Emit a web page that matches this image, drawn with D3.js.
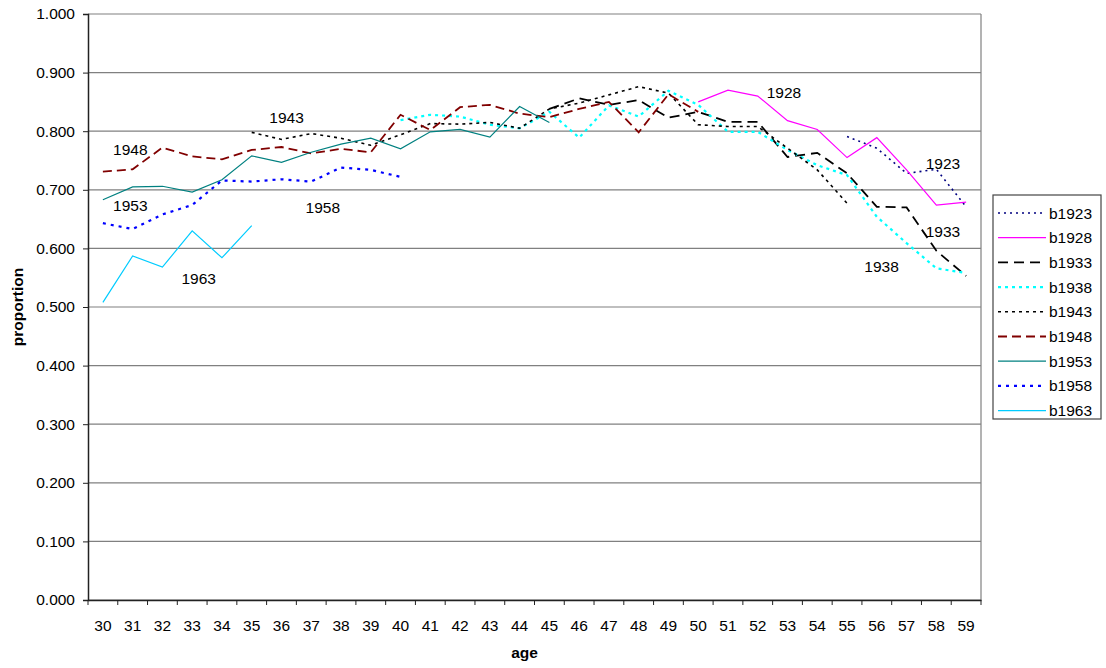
<!DOCTYPE html>
<html lang="en">
<head>
<meta charset="UTF-8">
<title>proportion by age</title>
<script src="https://cdn.jsdelivr.net/npm/d3@7"></script>
<style>
  body { margin: 0; background: #fff; }
  text { font-family: "Liberation Sans", Arial, sans-serif; }
</style>
</head>
<body>
<svg width="1106" height="668" id="mainsvg"></svg>
<script>
const ages = d3.range(30, 60)
const yTicks = [0, 0.1, 0.2, 0.3, 0.4, 0.5, 0.6, 0.7, 0.8, 0.9, 1.0]

// values by cohort, first value is at startAge
const b1923 = { start: 55, values: [0.791, 0.771, 0.728, 0.735, 0.671] }
const b1928 = { start: 50, values: [0.850, 0.870, 0.860, 0.818, 0.803, 0.755, 0.789, 0.734, 0.674, 0.679] }
const b1933 = { start: 45, values: [0.838, 0.856, 0.845, 0.853, 0.823, 0.833, 0.816, 0.816, 0.756, 0.763, 0.728, 0.671, 0.670, 0.596, 0.553] }
const b1938 = { start: 40, values: [0.819, 0.828, 0.825, 0.811, 0.805, 0.833, 0.789, 0.844, 0.825, 0.869, 0.845, 0.799, 0.799, 0.768, 0.742, 0.725, 0.654, 0.609, 0.566, 0.558] }
const b1943 = { start: 35, values: [0.798, 0.786, 0.796, 0.788, 0.776, 0.794, 0.813, 0.812, 0.815, 0.805, 0.838, 0.848, 0.862, 0.876, 0.865, 0.811, 0.808, 0.808, 0.771, 0.734, 0.677] }
const b1948 = { start: 30, values: [0.731, 0.735, 0.772, 0.757, 0.752, 0.768, 0.773, 0.762, 0.770, 0.764, 0.828, 0.802, 0.841, 0.845, 0.830, 0.824, 0.838, 0.850, 0.798, 0.863, 0.833] }
const b1953 = { start: 30, values: [0.683, 0.705, 0.706, 0.696, 0.717, 0.758, 0.747, 0.764, 0.778, 0.788, 0.770, 0.799, 0.803, 0.790, 0.842, 0.815] }
const b1958 = { start: 30, values: [0.643, 0.633, 0.658, 0.674, 0.716, 0.714, 0.718, 0.714, 0.738, 0.734, 0.722] }
const b1963 = { start: 30, values: [0.508, 0.587, 0.568, 0.630, 0.584, 0.639] }

const series = [
  { name: 'b1923', d: b1923, color: '#000080', dash: '2,4', w: 1.6 },
  { name: 'b1928', d: b1928, color: '#ff00ff', dash: null, w: 1.2 },
  { name: 'b1933', d: b1933, color: '#000000', dash: '10,6', w: 1.8 },
  { name: 'b1938', d: b1938, color: '#00ffff', dash: '3,4', w: 2.2 },
  { name: 'b1943', d: b1943, color: '#000000', dash: '3,4', w: 1.6 },
  { name: 'b1948', d: b1948, color: '#800000', dash: '9,5', w: 1.8 },
  { name: 'b1953', d: b1953, color: '#008080', dash: null, w: 1.2 },
  { name: 'b1958', d: b1958, color: '#0000ff', dash: '3,5', w: 2.2 },
  { name: 'b1963', d: b1963, color: '#00ccff', dash: null, w: 1.2 }
]

// label text with the age/value it sits near
const labelNames = ['1943', '1948', '1953', '1958', '1963', '1928', '1923', '1933', '1938']
const labelAge = [36.17, 30.92, 30.92, 37.39, 33.22, 52.88, 58.22, 58.22, 56.16]
const labelVal = [0.814, 0.760, 0.664, 0.660, 0.540, 0.856, 0.735, 0.620, 0.560]

const svg = d3.select('#mainsvg')
const margin = { top: 14, left: 88, right: 125, bottom: 68 }
const innerWidth = 1106 - margin.left - margin.right
const innerHeight = 668 - margin.top - margin.bottom
const fs = 15.5
const font = '"Liberation Sans", Arial, sans-serif'

const g = svg.append('g').attr('transform', `translate(${margin.left},${margin.top})`)

const xScale = d3.scaleBand().domain(ages).range([0, innerWidth])
const yScale = d3.scaleLinear().domain([0, 1]).range([innerHeight, 0])

// gridlines
g.selectAll('.grid').data(yTicks).enter().append('line')
  .attr('x1', 0).attr('x2', innerWidth)
  .attr('y1', d => yScale(d)).attr('y2', d => yScale(d))
  .attr('stroke', '#808080').attr('stroke-width', 1.2)
g.append('line').attr('x1', innerWidth).attr('x2', innerWidth)
  .attr('y1', 0).attr('y2', innerHeight).attr('stroke', '#808080').attr('stroke-width', 1.2)

// axes
const yAxis = d3.axisLeft(yScale).tickValues(yTicks).tickFormat(d3.format('.3f')).tickSize(5).tickPadding(8)
const yg = g.append('g').call(yAxis).attr('font-size', fs).attr('font-family', font)
yg.select('.domain').attr('stroke', '#222').attr('stroke-width', 1.5)
yg.selectAll('.tick line').attr('stroke', '#222')
yg.selectAll('text').attr('fill', '#000')

const xg = g.append('g').attr('transform', `translate(0,${innerHeight})`)
  .call(d3.axisBottom(xScale).tickSize(0).tickPadding(20))
  .attr('font-size', fs).attr('font-family', font)
xg.select('.domain').attr('stroke', '#222').attr('stroke-width', 1.5)
xg.selectAll('text').attr('fill', '#000')
// tick marks between categories
xg.selectAll('.sep').data(ages.concat([60])).enter().append('line')
  .attr('x1', d => d === 60 ? innerWidth : xScale(d)).attr('x2', d => d === 60 ? innerWidth : xScale(d))
  .attr('y1', 0).attr('y2', 5).attr('stroke', '#222')

// series lines
const line = d3.line()
  .x(d => xScale(d.age) + xScale.bandwidth() / 2)
  .y(d => yScale(d.v))

series.forEach(s => {
  const pts = s.d.values.map((v, i) => ({ age: s.d.start + i, v }))
  g.append('path').datum(pts)
    .attr('d', line)
    .attr('fill', 'none')
    .attr('stroke', s.color)
    .attr('stroke-width', s.w)
    .attr('stroke-dasharray', s.dash)
})

// cohort labels
const ageX = d3.scaleLinear().domain([30, 59])
  .range([xScale(30) + xScale.bandwidth() / 2, xScale(59) + xScale.bandwidth() / 2])
labelNames.forEach((t, i) => {
  g.append('text').text(t)
    .attr('x', ageX(labelAge[i])).attr('y', yScale(labelVal[i]))
    .attr('text-anchor', 'middle').attr('font-size', fs)
})

// axis titles
svg.append('text').text('age').attr('x', margin.left + innerWidth / 2 - 10).attr('y', 658)
  .attr('text-anchor', 'middle').attr('font-weight', 'bold').attr('font-size', fs)
svg.append('text').text('proportion')
  .attr('transform', `translate(23,${margin.top + innerHeight / 2}) rotate(-90)`)
  .attr('text-anchor', 'middle').attr('font-weight', 'bold').attr('font-size', fs)

// legend
const lg = svg.append('g').attr('transform', 'translate(993,195)')
lg.append('rect').attr('width', 108).attr('height', 224)
  .attr('fill', '#fff').attr('stroke', '#444').attr('stroke-width', 1.2)
series.forEach((s, i) => {
  const y = 18 + i * 24.7
  lg.append('line').attr('x1', 5).attr('x2', 53).attr('y1', y).attr('y2', y)
    .attr('stroke', s.color).attr('stroke-width', s.w)
    .attr('stroke-dasharray', s.dash)
  lg.append('text').text(s.name).attr('x', 56).attr('y', y + 5.5).attr('font-size', fs)
})
</script>
</body>
</html>
